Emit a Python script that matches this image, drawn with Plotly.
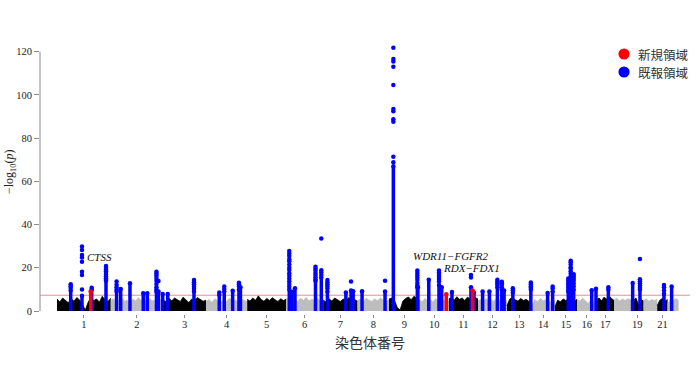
import numpy as np
import plotly.graph_objects as go

# ---------------- data ----------------
chrom_len = [249, 243, 198, 191, 181, 171, 159, 146, 141, 136, 135,
             134, 115, 107, 103, 90, 81, 78, 59, 63, 48, 51]
tick_chroms = [1, 2, 3, 4, 5, 6, 7, 8, 9, 10, 11, 12, 13, 14, 15, 16, 17, 19, 21]

# background (non-significant) -log10(p) envelope per chromosome
bg_chr1 = [5.5, 4.2, 6.0, 5.0, 3.8, 5.8, 4.5, 6.2, 5.1, 3.0, 0.5, 4.0, 6.3, 4.8, 5.6, 4.1, 6.8, 5.2, 4.4, 5.9]
bg_chr2 = [4.8, 5.6, 4.0, 5.2, 6.0, 4.5, 5.0, 3.8, 5.5, 4.6, 6.1, 4.9, 5.3, 4.2, 5.8, 4.7, 5.0, 4.1, 5.4, 4.6]
bg_chr3 = [5.0, 4.3, 5.8, 4.7, 6.0, 5.2, 4.4, 6.4, 5.1, 3.9, 5.6, 4.8, 6.2, 5.5, 4.5, 5.0]
bg_chr4 = [4.5, 5.3, 4.0, 5.6, 4.8, 3.9, 5.2, 4.4, 5.9, 4.6, 5.0, 4.2, 5.5, 4.7, 4.3]
bg_chr5 = [5.4, 4.6, 6.0, 5.0, 7.0, 5.3, 4.5, 5.8, 4.9, 6.1, 5.2, 4.4, 5.7, 4.8, 5.5]
bg_chr6 = [5.2, 6.5, 4.8, 5.6, 4.3, 5.9, 5.0, 6.2, 4.6, 5.4, 4.9, 5.8, 4.5, 5.1]
bg_chr7 = [5.0, 4.2, 5.7, 4.6, 6.0, 5.1, 4.4, 5.5, 4.9, 6.2, 4.7, 5.3, 4.5]
bg_chr8 = [4.8, 5.5, 4.2, 5.9, 5.0, 4.4, 5.6, 4.7, 6.0, 5.1, 4.3, 5.2]
bg_chr9 = [5.5, 6.0, 4.8, 1.5, 0.5, 4.6, 5.8, 6.5, 5.2, 6.8, 5.9, 5.0]
bg_chr10 = [5.0, 4.3, 5.8, 4.9, 5.4, 4.1, 5.7, 4.6, 5.2, 4.8, 5.5, 4.4]
bg_chr11 = [5.6, 6.3, 5.0, 6.6, 5.4, 6.0, 4.9, 6.4, 5.7, 5.1, 6.2, 5.5]
bg_chr12 = [4.6, 5.3, 4.1, 5.7, 4.8, 5.2, 4.4, 5.9, 4.9, 5.4, 4.5, 5.0]
bg_chr13 = [2.5, 5.5, 6.3, 5.2, 4.6, 5.8, 4.9, 5.4, 4.4, 5.0]
bg_chr14 = [2.0, 5.2, 4.4, 5.8, 4.7, 5.3, 4.2, 5.0, 4.6]
bg_chr15 = [2.0, 5.0, 4.3, 5.6, 4.8, 6.0, 5.2, 4.6, 5.4]
bg_chr16 = [5.3, 4.5, 5.9, 4.8, 3.5, 5.1, 4.4, 5.6]
bg_chr17 = [5.2, 6.0, 4.7, 6.4, 5.5, 7.0, 5.8, 4.9]
bg_chr18 = [5.0, 5.8, 4.6, 5.5, 4.9, 5.7, 4.8]
bg_chr19 = [5.4, 4.7, 6.0, 3.0, 5.2, 4.6]
bg_chr20 = [4.9, 5.6, 4.5, 5.3, 4.8, 5.5]
bg_chr21 = [2.5, 5.0, 5.8, 4.6, 5.3]
bg_chr22 = [3.0, 5.3, 4.7, 5.7, 4.9]

# significant loci: chromosome, position (Mb), solid column top, extra points above
peak_chr = [1, 1, 1, 1, 1,
            2, 2, 2, 2, 2, 2, 2, 2,
            3, 3,
            4, 4, 4, 4, 4,
            6, 6, 6, 6, 6,
            7, 7, 7, 7,
            8, 8,
            9, 9, 9,
            10, 10, 10, 10,
            11, 11, 11, 11,
            12, 12, 12, 12, 12,
            13, 13,
            14, 14,
            15, 15, 15,
            16, 16,
            17,
            19, 19,
            21,
            22]
peak_pos = [63.5, 115.8, 156.0, 160.7, 227.0,
            27.0, 46.0, 89.0, 150.5, 169.0, 211.7, 221.0, 240.5,
            20.8, 142.6,
            61.6, 84.7, 123.6, 152.8, 159.7,
            13.9, 26.4, 40.3, 135.3, 162.2,
            19.5, 105.0, 129.0, 138.8,
            21.0, 127.4,
            19.9, 131.0, 133.5,
            43.0, 90.3, 102.8, 124.0,
            14.4, 102.4, 110.2, 116.2,
            21.3, 52.8, 89.8, 110.2, 120.8,
            27.3, 110.7,
            73.5, 96.7,
            62.1, 73.3, 87.2,
            67.6, 87.5,
            54.7,
            8.3, 42.1,
            31.5,
            18.8]
peak_col = [9.5, 7.0, 9.0, 10.0, 14.0,
            9.0, 10.2, 12.8, 8.2, 8.2, 9.0, 9.0, 7.9,
            7.9, 9.0,
            7.5, 9.0, 9.4, 10.0, 11.0,
            10.0, 8.9, 10.5, 14.0, 15.5,
            9.0, 8.6, 9.5, 9.1,
            9.1, 9.0,
            67.0, 11.0, 11.0,
            14.5, 12.0, 11.0, 7.8,
            8.8, 11.0, 9.5, 8.5,
            9.0, 9.0, 11.0, 10.0, 9.5,
            8.5, 10.0,
            8.3, 9.0,
            9.0, 9.0, 10.0,
            9.6, 10.3,
            10.0,
            13.0, 10.0,
            8.0,
            11.3]
peak_dots = [[12.4, 11.5, 10.6],
             [29.8, 28.2, 25.9, 24.7, 22.8, 18.2, 16.7, 10.0],
             [],
             [10.8],
             [20.8, 20.0, 19.2, 18.4, 17.6, 16.8, 16.0, 15.2, 14.5],
             [13.6, 12.2, 11.0, 10.0],
             [], [], [], [],
             [18.2, 17.3, 16.4, 15.3, 14.0, 12.5, 11.0, 10.0],
             [13.9],
             [],
             [],
             [14.3, 13.3, 12.4, 11.2, 10.2],
             [8.6],
             [11.3, 10.2],
             [],
             [13.1, 12.4, 11.5],
             [],
             [27.8, 26.6, 25.5, 24.0, 23.0, 21.5, 20.0, 19.0, 17.5, 16.3, 15.0, 13.8, 12.5, 11.2],
             [],
             [],
             [20.5, 19.5, 18.6, 17.6, 16.6, 15.6, 14.6],
             [33.6, 18.9, 17.8, 16.7],
             [14.3, 13.3, 12.4, 11.4, 10.4],
             [],
             [13.6],
             [],
             [],
             [14.0],
             [121.8, 116.6, 115.4, 113.0, 104.6, 93.5, 92.4, 88.7, 87.6, 71.4, 68.8],
             [18.7, 17.6, 16.5, 15.4, 14.3, 13.0, 11.8],
             [],
             [],
             [18.7, 17.8, 16.8, 15.8, 14.8, 13.6],
             [],
             [],
             [],
             [16.7, 15.5],
             [],
             [],
             [], [],
             [14.5, 13.7, 12.8, 12.0],
             [13.5, 12.8, 12.0, 11.0],
             [],
             [10.5, 9.6],
             [13.2, 12.4, 11.5, 10.8],
             [],
             [11.3, 10.4],
             [15.0, 14.0, 13.0, 12.0, 11.0, 10.0],
             [23.3, 22.5, 21.5, 20.3, 19.5, 18.4, 17.3, 16.2, 15.0, 13.8, 12.5, 11.3, 10.2],
             [17.0, 16.0, 15.0, 14.0, 12.7, 11.5],
             [], [],
             [11.0],
             [],
             [24.1, 14.7, 13.8, 12.8, 11.8, 10.8],
             [12.0, 11.0, 9.5],
             []]
peak_novel = [False, False, True, False, False,
              False, False, False, False, False, False, False, False,
              False, False,
              False, False, False, False, False,
              False, False, False, False, False,
              False, False, False, False,
              False, False,
              False, False, False,
              False, False, False, True,
              False, False, True, False,
              False, False, False, False, False,
              False, False,
              False, False,
              False, False, False,
              False, False,
              False,
              False, False,
              False,
              False]

threshold = -np.log10(5e-8)

gene_labels = ["CTSS", "WDR11\u2212FGFR2", "RDX\u2212FDX1"]
gene_cum_pos = [199.0, 1825.0, 1922.0]
gene_level = [25.1, 25.4, 19.8]

legend_labels = ["新規領域", "既報領域"]
legend_colors = ["#ff0000", "#0000ff"]

# ---------------- figure ----------------
bg_all = [bg_chr1, bg_chr2, bg_chr3, bg_chr4, bg_chr5, bg_chr6, bg_chr7, bg_chr8,
          bg_chr9, bg_chr10, bg_chr11, bg_chr12, bg_chr13, bg_chr14, bg_chr15,
          bg_chr16, bg_chr17, bg_chr18, bg_chr19, bg_chr20, bg_chr21, bg_chr22]

lens = np.array(chrom_len, dtype=float)
starts = np.concatenate([[0.0], np.cumsum(lens)[:-1]])
centers = starts + lens / 2.0

SERIF = "Liberation Serif, Times New Roman, serif"
CJK = "Noto Sans CJK JP, Noto Sans, sans-serif"

fig = go.Figure()

for i, h in enumerate(bg_all):
    xs = starts[i] + np.linspace(0, chrom_len[i], len(h))
    col = "#000000" if i % 2 == 0 else "#bdbdbd"
    fig.add_trace(go.Scatter(x=xs, y=h, mode="lines", fill="tozeroy",
                             line=dict(color=col, width=0.8), fillcolor=col,
                             showlegend=False, hoverinfo="skip"))

for novel, color, name in [(False, "#0000ff", "既報領域"), (True, "#ff0000", "新規領域")]:
    lx, ly, dx, dy = [], [], [], []
    for c, p, top, dots, nv in zip(peak_chr, peak_pos, peak_col, peak_dots, peak_novel):
        if nv != novel:
            continue
        x = starts[c - 1] + p
        lx += [x, x, None]
        ly += [0, top, None]
        dx += [x] * (len(dots) + 1)
        dy += [top] + list(dots)
    fig.add_trace(go.Scatter(x=lx, y=ly, mode="lines", line=dict(color=color, width=3.5),
                             showlegend=False, hoverinfo="skip"))
    fig.add_trace(go.Scatter(x=dx, y=dy, mode="markers", name=name, showlegend=False,
                             marker=dict(color=color, size=4.5, line=dict(width=0))))

fig.add_shape(type="line", xref="paper", x0=0, x1=1, yref="y", y0=threshold, y1=threshold,
              line=dict(color="#f28b8b", width=1), layer="below")
fig.add_shape(type="line", xref="paper", x0=0, x1=0, yref="y", y0=0, y1=120,
              line=dict(color="#8c8c8c", width=1))

# legend (circles + text, placed to match the original key)
leg_y = [0.9665, 0.8996]
for lab, col, yy in zip(legend_labels, legend_colors, leg_y):
    fig.add_shape(type="circle", xref="paper", yref="paper", xsizemode="pixel", ysizemode="pixel",
                  xanchor=0.8985, yanchor=yy, x0=-5.6, x1=5.6, y0=-5.6, y1=5.6,
                  fillcolor=col, line=dict(width=0))
    fig.add_annotation(xref="paper", yref="paper", x=0.9170, y=yy, text=lab, showarrow=False,
                       font=dict(family=CJK, size=12.5, color="#333"),
                       xanchor="left", yanchor="middle")

for t, x, y in zip(gene_labels, gene_cum_pos, gene_level):
    fig.add_annotation(x=x, y=y, text="<i>%s</i>" % t, showarrow=False,
                       font=dict(family=SERIF, size=11, color="#111"),
                       xanchor="center", yanchor="middle")

fig.add_annotation(xref="paper", yref="paper", x=-0.046, y=0.528,
                   text="\u2212log<sub>10</sub>(<i>p</i>)", textangle=-90, showarrow=False,
                   font=dict(family=SERIF, size=12, color="#222"),
                   xanchor="center", yanchor="middle")
fig.add_annotation(xref="paper", yref="paper", x=0.5077, y=-0.105,
                   text="染色体番号", showarrow=False,
                   font=dict(family=CJK, size=14, color="#333"),
                   xanchor="center", yanchor="middle")

fig.update_layout(
    width=700, height=368,
    margin=dict(l=40, r=10, t=45, b=54),
    paper_bgcolor="white", plot_bgcolor="white",
    showlegend=False,
    xaxis=dict(range=[-78.7, 2931.9], showgrid=False, zeroline=False, showline=False,
               tickmode="array", tickvals=[centers[c - 1] for c in tick_chroms],
               ticktext=[str(c) for c in tick_chroms],
               ticks="outside", ticklen=3, tickcolor="#8c8c8c", ticklabelstandoff=-3,
               tickfont=dict(family=SERIF, size=10.5, color="#222")),
    yaxis=dict(range=[-1.39, 123.09], showgrid=False, zeroline=False, showline=False,
               tickmode="array", tickvals=[0, 20, 40, 60, 80, 100, 120],
               ticks="outside", ticklen=5, tickcolor="#8c8c8c",
               tickfont=dict(family=SERIF, size=10.5, color="#222")),
)

fig.write_html("out.html", config={"displayModeBar": False},
               post_script="document.body.style.margin='0px';")
